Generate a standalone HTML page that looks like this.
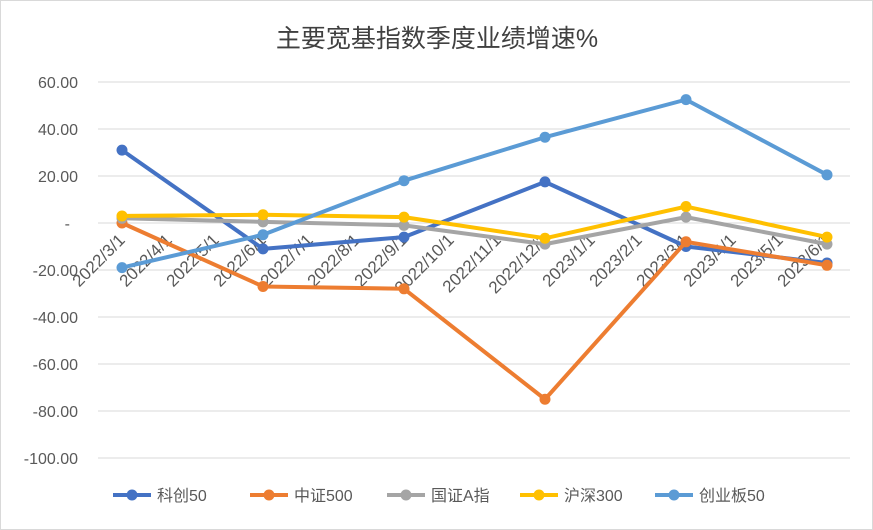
<!DOCTYPE html>
<html><head><meta charset="utf-8"><style>
body{margin:0;background:#fff;}
svg{display:block;font-family:"Liberation Sans","Noto Sans CJK SC",sans-serif;}
</style></head><body>
<svg id="chart" width="873" height="530" viewBox="0 0 873 530">
<rect x="0.5" y="0.5" width="872" height="529" fill="#fff" stroke="#d9d9d9"/>
<text x="437" y="47" text-anchor="middle" font-size="25" fill="#404040">主要宽基指数季度业绩增速%</text>
<g id="grid"></g><g id="yticks"></g><g id="xticks"></g><g id="series"></g><g id="legend"></g>
</svg>
<script>
const months=["2022/3/1","2022/4/1","2022/5/1","2022/6/1","2022/7/1","2022/8/1","2022/9/1","2022/10/1","2022/11/1","2022/12/1","2023/1/1","2023/2/1","2023/3/1","2023/4/1","2023/5/1","2023/6/1"];
const pointMonths=[0,3,6,9,12,15];
const seriesNames=["科创50","中证500","国证A指","沪深300","创业板50"];
const kc50=[31,-11,-6,17.5,-10,-17];
const zz500=[0,-27,-28,-75,-8,-18];
const gzA=[2,0.5,-1,-9,2.5,-9];
const hs300=[3,3.5,2.5,-6.5,7,-6];
const cyb50=[-19,-5,18,36.5,52.5,20.5];
const yTicks=[60,40,20,0,-20,-40,-60,-80,-100];
const colors=["#4472c4","#ed7d31","#a5a5a5","#ffc000","#5b9bd5"];
const NS="http://www.w3.org/2000/svg";
const yScale=v=>223-(v/20)*47;
const xScale=i=>122+i*47;
function mk(tag,attrs,parent){const e=document.createElementNS(NS,tag);for(const k in attrs)e.setAttribute(k,attrs[k]);parent.appendChild(e);return e;}
const grid=document.getElementById('grid'),yt=document.getElementById('yticks'),xt=document.getElementById('xticks'),sg=document.getElementById('series'),lg=document.getElementById('legend');
yTicks.forEach(v=>{
 const l=mk('line',{x1:98,x2:850,y1:yScale(v),y2:yScale(v),stroke:'#d9d9d9','stroke-width':1},grid);
 
 
 const t=mk('text',{x:v===0?70:78,y:yScale(v)+6,'text-anchor':'end','font-size':16,fill:'#595959'},yt);
 t.textContent=v===0?'-':v.toFixed(2);
 
 
});
months.forEach((m,i)=>{
 const x=xScale(i)+4,y=241;
 const t=mk('text',{x:x,y:y,'text-anchor':'end','font-size':17,fill:'#595959',transform:`rotate(-45 ${x} ${y})`},xt);
 t.textContent=m;
 
 
});
[kc50,zz500,gzA,hs300,cyb50].forEach((vals,s)=>{
 const g=mk('g',{},sg);
 
 
 const pts=vals.map((v,i)=>xScale(pointMonths[i])+','+yScale(v)).join(' ');
 const pl=mk('polyline',{points:pts,fill:'none',stroke:colors[s],'stroke-width':4,'stroke-linejoin':'round'},g);
 
 
 vals.forEach((v,i)=>{
  const c=mk('circle',{cx:xScale(pointMonths[i]),cy:yScale(v),r:5.5,fill:colors[s]},g);
  
  
 });
});
const lx=[113,250,387,520,655];
seriesNames.forEach((n,s)=>{
 const g=mk('g',{},lg);
 
 
 mk('line',{x1:lx[s],x2:lx[s]+38,y1:495,y2:495,stroke:colors[s],'stroke-width':4},g);
 mk('circle',{cx:lx[s]+19,cy:495,r:5.5,fill:colors[s]},g);
 const t=mk('text',{x:lx[s]+44,y:501,'font-size':16,fill:'#595959'},g);
 t.textContent=n;
});
</script>
</body></html>
